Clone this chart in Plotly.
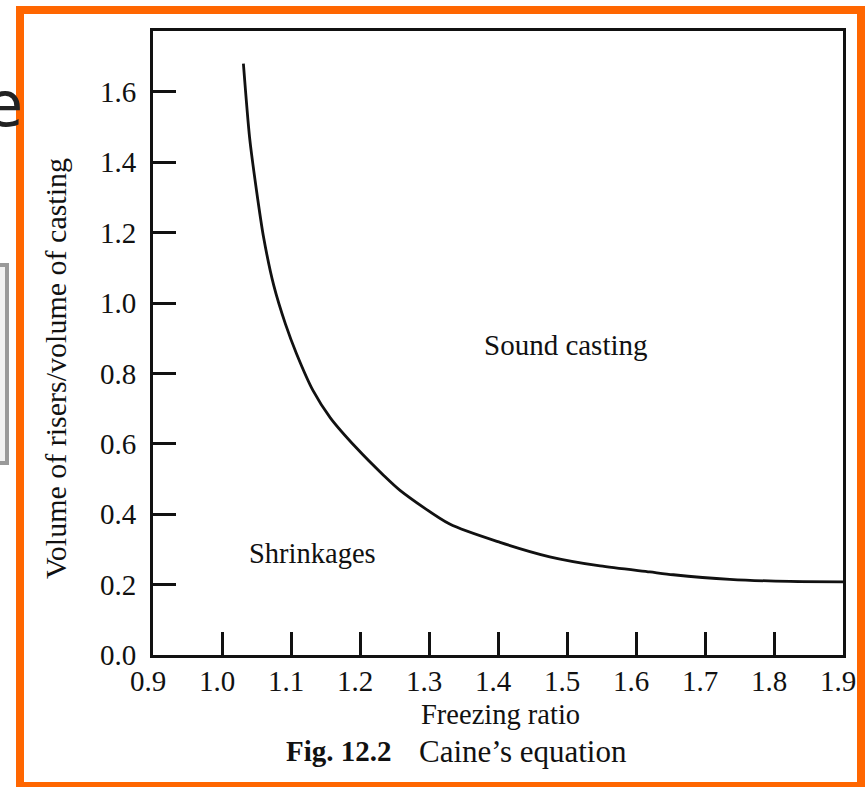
import plotly.graph_objects as go

# Data
freezing_ratio = [1.031, 1.040, 1.050, 1.060, 1.075, 1.092, 1.108, 1.132, 1.157, 1.195,
                  1.234, 1.258, 1.330, 1.403, 1.475, 1.548, 1.620, 1.654, 1.736, 1.823, 1.900]
volume_ratio = [1.68, 1.47, 1.32, 1.19, 1.05, 0.94, 0.856, 0.751, 0.674, 0.588,
                0.511, 0.468, 0.372, 0.320, 0.279, 0.253, 0.236, 0.228, 0.215, 0.209, 0.208]
x_ticks = [0.9, 1.0, 1.1, 1.2, 1.3, 1.4, 1.5, 1.6, 1.7, 1.8, 1.9]
y_ticks = [0.0, 0.2, 0.4, 0.6, 0.8, 1.0, 1.2, 1.4, 1.6]
x_tick_text = ["%.1f" % v for v in x_ticks]
y_tick_text = ["%.1f" % v for v in y_ticks]

W, H = 865, 787
def X(px):
    return px / W
def Y(py):
    return 1 - py / H

SERIF = "Liberation Serif"
ORANGE = "#FF6600"
INK = "#111111"

fig = go.Figure()
fig.add_trace(go.Scatter(x=freezing_ratio, y=volume_ratio, mode="lines",
                         line=dict(color=INK, width=2.8, shape="spline", smoothing=0.7),
                         showlegend=False, hoverinfo="skip"))

axis_common = dict(showline=True, linecolor=INK, linewidth=3, mirror=True,
                   ticks="inside", tickwidth=2.5, tickcolor=INK, ticklen=23,
                   showgrid=False, zeroline=False, automargin=False,
                   tickfont=dict(family=SERIF, size=29, color=INK))

fig.update_layout(
    width=W, height=H, autosize=False,
    margin=dict(l=0, r=0, t=0, b=0, pad=0),
    paper_bgcolor="white", plot_bgcolor="white",
    xaxis=dict(range=[0.9, 1.9], domain=[X(153), X(843)],
               tickvals=x_ticks, ticktext=x_tick_text, ticklabelstandoff=-2,
               ticklabelshift=-5,
               **axis_common),
    yaxis=dict(range=[0, 1.773], domain=[Y(655), Y(31)],
               tickvals=y_ticks, ticktext=y_tick_text, ticklabelstandoff=8,
               **axis_common),
)

def note(px, py, text, size, family=SERIF, angle=0, xanchor="center", color=INK):
    return dict(x=X(px), y=Y(py), xref="paper", yref="paper", text=text,
                xanchor=xanchor, yanchor="middle", textangle=angle,
                showarrow=False, font=dict(family=family, size=size, color=color))

ann = [
    note(500, 714, "Freezing ratio", 28.5),
    note(55, 369, "Volume of risers/volume of casting", 30, angle=-90),
    note(566, 345, "Sound casting", 29),
    note(312, 553, "Shrinkages", 28.5),
    note(284, 751, "<b>Fig. 12.2</b>", 29, xanchor="left"),
    note(417, 751, "Caine\u2019s equation", 31, xanchor="left"),
    note(25, 104, "e", 62, family="DejaVu Sans", xanchor="right", color="#222222"),
]
fig.update_layout(annotations=ann)

shapes = []
# grey box fragment at left edge
shapes.append(dict(type="rect", xref="paper", yref="paper",
                   x0=X(-20), x1=X(7), y0=Y(463), y1=Y(265),
                   line=dict(color="#9a9a9a", width=4), fillcolor="#f2f2f2", layer="below"))
# orange frame
for (x0, x1, y0, y1) in [(16, 24, 6, 787), (16, 865, 6, 14), (16, 865, 782, 787), (857, 865, 6, 787)]:
    shapes.append(dict(type="rect", xref="paper", yref="paper",
                       x0=X(x0), x1=X(x1), y0=Y(y1), y1=Y(y0),
                       line=dict(width=0), fillcolor=ORANGE))
fig.update_layout(shapes=shapes)

fig.write_html("out.html")
